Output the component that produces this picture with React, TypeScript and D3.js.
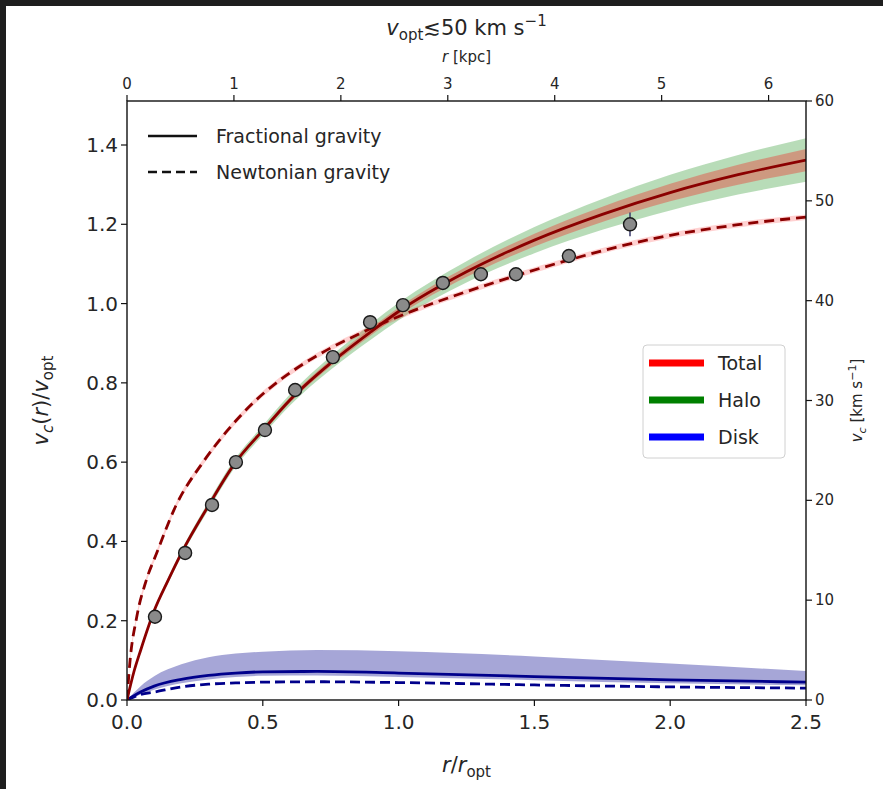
import React from "react";
import * as d3 from "d3";

// ---------- data ----------
const obsX = [0.103, 0.214, 0.313, 0.401, 0.508, 0.619, 0.758, 0.895, 1.016, 1.163, 1.303, 1.432, 1.627, 1.852];
const obsY = [0.21, 0.371, 0.492, 0.6, 0.681, 0.782, 0.865, 0.953, 0.996, 1.052, 1.074, 1.074, 1.12, 1.2];
const obsErr = [0.008, 0.008, 0.008, 0.008, 0.008, 0.008, 0.01, 0.01, 0.01, 0.01, 0.012, 0.012, 0.015, 0.03];

const fracX = [0, 0.025, 0.05, 0.1, 0.15, 0.2, 0.3, 0.4, 0.5, 0.6, 0.75, 0.9, 1.0, 1.25, 1.5, 1.75, 2.0, 2.25, 2.5];
const fracTotal = [0, 0.07, 0.125, 0.225, 0.3, 0.37, 0.49, 0.6, 0.68, 0.757, 0.85, 0.93, 0.98, 1.08, 1.16, 1.225, 1.28, 1.325, 1.362];
const haloErr = [0, 0.002, 0.003, 0.005, 0.007, 0.008, 0.01, 0.011, 0.012, 0.014, 0.017, 0.02, 0.022, 0.027, 0.033, 0.039, 0.045, 0.05, 0.055];
const totalErr = [0, 0.001, 0.002, 0.003, 0.003, 0.004, 0.005, 0.006, 0.006, 0.007, 0.008, 0.009, 0.01, 0.013, 0.016, 0.019, 0.022, 0.025, 0.028];

const newtX = [0, 0.01, 0.036, 0.07, 0.109, 0.18, 0.28, 0.37, 0.465, 0.55, 0.65, 0.75, 0.85, 0.95, 1.05, 1.25, 1.43, 1.627, 1.8, 2.0, 2.25, 2.5];
const newtTotal = [0, 0.09, 0.21, 0.3, 0.37, 0.49, 0.6, 0.68, 0.75, 0.8, 0.848, 0.888, 0.922, 0.953, 0.981, 1.03, 1.07, 1.11, 1.142, 1.172, 1.199, 1.218];

const diskX = [0, 0.05, 0.1, 0.2, 0.3, 0.4, 0.5, 0.7, 1.0, 1.5, 2.0, 2.5];
const diskFrac = [0, 0.02, 0.035, 0.052, 0.062, 0.068, 0.071, 0.072, 0.068, 0.059, 0.051, 0.045];
const diskUpper = [0, 0.035, 0.06, 0.09, 0.108, 0.117, 0.122, 0.126, 0.123, 0.11, 0.092, 0.073];
const diskLower = [0, 0.014, 0.026, 0.042, 0.052, 0.058, 0.061, 0.062, 0.058, 0.05, 0.042, 0.037];
const diskNewt = [0, 0.014, 0.02, 0.033, 0.04, 0.043, 0.045, 0.046, 0.044, 0.038, 0.033, 0.03];

const bottomTicks = [0, 0.5, 1.0, 1.5, 2.0, 2.5];
const leftTicks = [0, 0.2, 0.4, 0.6, 0.8, 1.0, 1.2, 1.4];
const topTicks = [0, 1, 2, 3, 4, 5, 6];
const rightTicks = [0, 10, 20, 30, 40, 50, 60];

const legendStyles = ["Fractional gravity", "Newtonian gravity"];
const legendComps = ["Total", "Halo", "Disk"];
const legendColors = ["#ff0000", "#008000", "#0000ff"];

// ---------- layout ----------
const W = 883, H = 789;
const L = 127, R = 806, T = 101, B = 700;
const FONT = "DejaVu Sans, sans-serif";
const TXT = "#262626";

export default function App() {
  const x = d3.scaleLinear().domain([0, 2.5]).range([L, R]);
  const y = d3.scaleLinear().domain([0, 1.511]).range([B, T]);
  const yR = d3.scaleLinear().domain([0, 60]).range([B, T]);
  const xTop = d3.scaleLinear().domain([0, 6.35]).range([L, R]);

  const curve = d3.curveMonotoneX;
  const line = (xs: number[], ys: number[]) =>
    d3.line<number>().x((_, i) => x(xs[i])).y((d) => y(d)).curve(curve)(ys) || "";
  const band = (xs: number[], lo: number[], hi: number[]) =>
    d3.area<number>().x((_, i) => x(xs[i])).y0((_, i) => y(lo[i])).y1((_, i) => y(hi[i])).curve(curve)(xs) || "";

  const haloLo = fracTotal.map((v, i) => v - haloErr[i]);
  const haloHi = fracTotal.map((v, i) => v + haloErr[i]);
  const totLo = fracTotal.map((v, i) => v - totalErr[i]);
  const totHi = fracTotal.map((v, i) => v + totalErr[i]);
  const newtLo = newtTotal.map((v) => Math.max(0, v - 0.007));
  const newtHi = newtTotal.map((v) => v + 0.007);

  return (
    <svg width={W} height={H} style={{ position: "absolute", left: 0, top: 0, background: "#fff" }} fontFamily={FONT}>
      <rect x={0} y={0} width={W} height={H} fill="#fff" />
      <rect x={0} y={0} width={W} height={6} fill="#1e1e1e" />
      <rect x={0} y={0} width={6} height={H} fill="#1e1e1e" />
      <defs>
        <clipPath id="plot">
          <rect x={L} y={T} width={R - L} height={B - T} />
        </clipPath>
      </defs>

      <g clipPath="url(#plot)">
        <path d={band(fracX, haloLo, haloHi)} fill="#008000" fillOpacity={0.28} />
        <path d={band(fracX, totLo, totHi)} fill="#ff0000" fillOpacity={0.3} />
        <path d={band(newtX, newtLo, newtHi)} fill="#ff0000" fillOpacity={0.18} />
        <path d={band(diskX, diskLower, diskUpper)} fill="#00008b" fillOpacity={0.35} />

        <path d={line(diskX, diskNewt)} fill="none" stroke="#00008b" strokeWidth={2.8} strokeDasharray="10,5" />
        <path d={line(diskX, diskFrac)} fill="none" stroke="#00008b" strokeWidth={2.8} />
        <path d={line(newtX, newtTotal)} fill="none" stroke="#8b0000" strokeWidth={2.8} strokeDasharray="10,6" />
        <path d={line(fracX, fracTotal)} fill="none" stroke="#8b0000" strokeWidth={2.8} />

        {obsX.map((vx, i) => (
          <g key={i}>
            <line x1={x(vx)} x2={x(vx)} y1={y(obsY[i] - obsErr[i])} y2={y(obsY[i] + obsErr[i])} stroke="#3a3a6a" strokeWidth={1.5} />
            <circle cx={x(vx)} cy={y(obsY[i])} r={6.5} fill="#8a8a8a" stroke="#1a1a1a" strokeWidth={1.4} />
          </g>
        ))}
      </g>

      {/* spines */}
      <rect x={L} y={T} width={R - L} height={B - T} fill="none" stroke="#111" strokeWidth={1.4} />

      {/* bottom axis */}
      {bottomTicks.map((t) => (
        <g key={"b" + t}>
          <line x1={x(t)} x2={x(t)} y1={B} y2={B + 6} stroke="#111" strokeWidth={1.2} />
          <text x={x(t)} y={B + 29} fontSize={20} textAnchor="middle" fill={TXT}>{t.toFixed(1)}</text>
        </g>
      ))}
      <text x={(L + R) / 2} y={772} fontSize={21} textAnchor="middle" fill={TXT}>
        <tspan fontStyle="italic">r</tspan>
        <tspan>/</tspan>
        <tspan fontStyle="italic">r</tspan>
        <tspan fontSize={15} dy={5}>opt</tspan>
      </text>

      {/* left axis */}
      {leftTicks.map((t) => (
        <g key={"l" + t}>
          <line x1={L - 6} x2={L} y1={y(t)} y2={y(t)} stroke="#111" strokeWidth={1.2} />
          <text x={L - 9} y={y(t) + 7} fontSize={20} textAnchor="end" fill={TXT}>{t.toFixed(1)}</text>
        </g>
      ))}
      <text transform={`translate(48,${(T + B) / 2}) rotate(-90)`} fontSize={21} textAnchor="middle" fill={TXT}>
        <tspan fontStyle="italic">v</tspan>
        <tspan fontSize={15} dy={5} fontStyle="italic">c</tspan>
        <tspan dy={-5}>(</tspan>
        <tspan fontStyle="italic">r</tspan>
        <tspan>)/</tspan>
        <tspan fontStyle="italic">v</tspan>
        <tspan fontSize={15} dy={5}>opt</tspan>
      </text>

      {/* top axis */}
      {topTicks.map((t) => (
        <g key={"t" + t}>
          <line x1={xTop(t)} x2={xTop(t)} y1={T} y2={T - 6} stroke="#111" strokeWidth={1.2} />
          <text x={xTop(t)} y={T - 12} fontSize={15} textAnchor="middle" fill={TXT}>{t}</text>
        </g>
      ))}
      <text x={(L + R) / 2} y={62} fontSize={15} textAnchor="middle" fill={TXT}>
        <tspan fontStyle="italic">r</tspan>
        <tspan> [kpc]</tspan>
      </text>
      <text x={(L + R) / 2} y={35} fontSize={21} textAnchor="middle" fill={TXT}>
        <tspan fontStyle="italic">v</tspan>
        <tspan fontSize={15} dy={5}>opt</tspan>
        <tspan dy={-5}>≲50 km  s</tspan>
        <tspan fontSize={15} dy={-9}>−1</tspan>
      </text>

      {/* right axis */}
      {rightTicks.map((t) => (
        <g key={"r" + t}>
          <line x1={R} x2={R + 6} y1={yR(t)} y2={yR(t)} stroke="#111" strokeWidth={1.2} />
          <text x={R + 9} y={yR(t) + 5} fontSize={15} textAnchor="start" fill={TXT}>{t}</text>
        </g>
      ))}
      <text transform={`translate(862,${(T + B) / 2}) rotate(-90)`} fontSize={15} textAnchor="middle" fill={TXT}>
        <tspan fontStyle="italic">v</tspan>
        <tspan fontSize={11} dy={4} fontStyle="italic">c</tspan>
        <tspan dy={-4}> [km s</tspan>
        <tspan fontSize={11} dy={-6}>−1</tspan>
        <tspan dy={6}>]</tspan>
      </text>

      {/* legend: line styles */}
      {legendStyles.map((s, i) => (
        <g key={s}>
          <line x1={148} x2={197} y1={136 + i * 36} y2={136 + i * 36} stroke="#111" strokeWidth={2.4} strokeDasharray={i === 1 ? "9,5" : undefined} />
          <text x={216} y={143 + i * 36} fontSize={19} fill={TXT}>{s}</text>
        </g>
      ))}

      {/* legend: components */}
      <rect x={643} y={345} width={142} height={113} rx={4} fill="#fff" fillOpacity={0.85} stroke="#d0d0d0" strokeWidth={1} />
      {legendComps.map((s, i) => (
        <g key={s}>
          <line x1={649} x2={704} y1={363 + i * 37} y2={363 + i * 37} stroke={legendColors[i]} strokeWidth={7} />
          <text x={718} y={370 + i * 37} fontSize={19} fill={TXT}>{s}</text>
        </g>
      ))}
    </svg>
  );
}
